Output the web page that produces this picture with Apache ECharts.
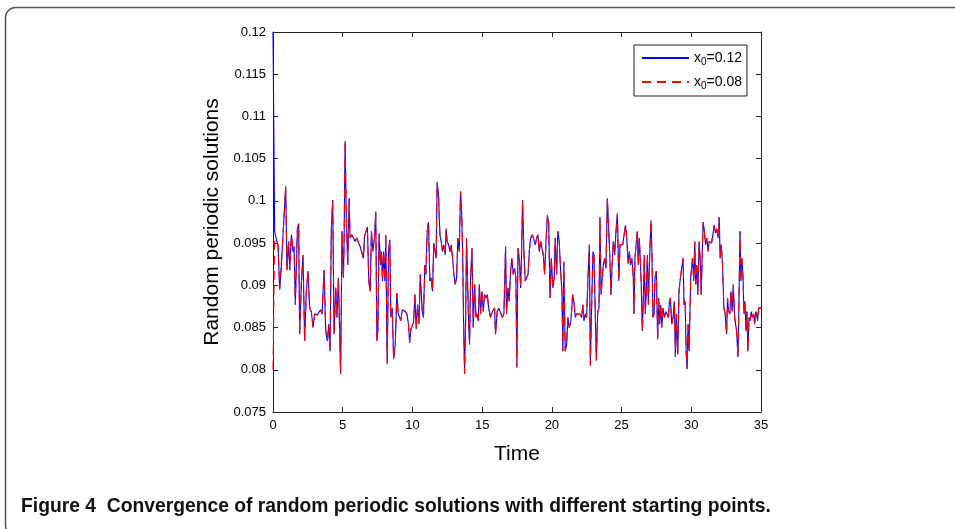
<!DOCTYPE html>
<html>
<head>
<meta charset="utf-8">
<script src="https://cdn.jsdelivr.net/npm/echarts@6/dist/echarts.min.js"></script>
<style>
html,body{margin:0;padding:0;background:#fff;}
#chart{width:955px;height:529px;}
</style>
</head>
<body>
<div id="chart"></div>
<script>
const time = [0,0.12,0.24,0.36,0.48,0.60,0.72,0.91,1.00,1.12,1.20,1.32,1.43,1.51,1.60,1.75,1.84,1.91,2.03,2.15,2.27,2.39,2.51,2.63,2.75,2.87,2.99,3.18,3.30,3.40,3.52,3.66,3.78,3.90,3.99,4.09,4.18,4.28,4.38,4.50,4.59,4.69,4.85,
4.95,5.05,5.10,5.17,5.26,5.36,5.46,5.53,5.65,5.77,5.89,6.01,6.13,6.25,6.37,6.49,6.56,6.68,6.77,6.87,6.97,7.06,7.16,7.28,7.37,7.45,7.52,7.61,7.71,7.78,7.85,7.93,8.02,8.09,8.19,8.29,8.38,8.45,8.55,8.65,8.77,8.88,8.98,9.08,9.17,9.27,9.36,9.48,9.60,9.72,9.80,9.89,9.99,10.08,10.18,10.27,10.37,10.47,10.56,
10.70,10.79,10.89,10.96,11.06,11.15,11.25,11.34,11.44,11.53,11.63,11.70,11.77,11.87,11.97,12.06,12.16,12.25,12.35,12.42,12.49,12.59,12.69,12.78,12.88,12.97,13.07,13.17,13.26,13.36,13.45,13.53,13.60,13.67,13.74,13.81,13.88,13.96,14.03,14.10,14.17,14.27,14.36,14.46,14.56,14.65,14.72,14.80,14.89,14.99,15.08,15.18,15.28,15.37,15.47,
15.60,15.74,15.89,15.96,16.08,16.20,16.32,16.44,16.56,16.68,16.75,16.85,16.94,17.04,17.13,17.23,17.33,17.42,17.49,17.57,17.66,17.76,17.83,17.90,18.00,18.09,18.19,18.29,18.38,18.48,18.60,18.72,18.81,18.91,19.00,19.10,19.20,19.29,19.39,19.48,19.58,19.68,19.77,19.87,19.96,
20.07,20.17,20.24,20.34,20.43,20.53,20.62,20.72,20.79,20.86,20.96,21.06,21.15,21.25,21.37,21.49,21.58,21.68,21.77,21.89,22.01,22.13,22.23,22.30,22.40,22.49,22.59,22.69,22.76,22.85,22.95,23.02,23.12,23.19,23.29,23.38,23.45,23.53,23.62,23.69,23.79,23.88,23.98,24.08,24.17,24.24,24.32,24.41,24.51,24.60,24.70,24.80,24.89,24.99,25.08,25.18,25.28,25.37,25.47,25.56,25.64,
25.74,25.84,25.89,25.96,26.06,26.13,26.20,26.27,26.34,26.41,26.49,26.56,26.63,26.70,26.77,26.85,26.92,27.01,27.11,27.18,27.25,27.33,27.40,27.49,27.59,27.66,27.73,27.81,27.88,27.97,28.07,28.17,28.26,28.36,28.43,28.50,28.60,28.69,28.79,28.86,28.93,29.03,29.12,29.22,29.32,29.41,29.48,29.56,29.63,29.70,29.77,29.84,
29.96,30.08,30.18,30.25,30.32,30.40,30.47,30.56,30.64,30.71,30.78,30.85,30.92,31.02,31.11,31.21,31.28,31.35,31.45,31.55,31.64,31.74,31.83,31.93,32.00,32.07,32.15,32.24,32.34,32.43,32.53,32.60,32.67,32.77,32.84,32.94,33.01,33.11,33.18,33.25,33.35,33.42,33.49,33.56,33.63,33.71,33.78,33.85,33.92,33.99,34.06,34.14,34.21,34.30,34.38,34.47,34.54,34.62,34.69,34.76,34.83,34.93,35.00];

// x0 = 0.12 (blue, solid)
const start012 = [0.1200,0.0964,0.0954,0.0948,0.0895,0.0924,0.0924,0.1017,0.0918,0.0952,0.0918,0.0960,0.0940,0.0946,0.0877,0.0967,0.0973,0.0842,0.0901,0.0936,0.0834,0.0893,0.0917,0.0873,0.0869,0.0850,0.0866,0.0865,0.0866,0.0871,0.0866,0.0918,0.0846,0.0834,0.0854,0.0822,0.0964,0.1001,0.0842,0.0897,0.0862,0.0909,0.0795,
0.0964,0.0909,0.0952,0.1071,0.0979,0.0924,0.1003,0.0956,0.0960,0.0962,0.0952,0.0956,0.0950,0.0946,0.0944,0.0932,0.0958,0.0956,0.0969,0.0905,0.0893,0.0964,0.0940,0.0956,0.0987,0.0834,0.0846,0.0962,0.0924,0.0940,0.0905,0.0940,0.0905,0.0960,0.0807,0.0940,0.0954,0.0862,0.0873,0.0813,0.0830,0.0891,0.0866,0.0862,0.0858,0.0871,0.0869,0.0869,0.0866,0.0854,0.0832,0.0848,0.0850,0.0856,0.0889,0.0848,0.0877,0.0854,0.0913,
0.0869,0.0862,0.0924,0.0913,0.0964,0.0975,0.0905,0.0909,0.0893,0.0950,0.0940,0.0932,0.1022,0.1007,0.0960,0.0952,0.0940,0.0948,0.0936,0.0967,0.0952,0.0948,0.0940,0.0948,0.0932,0.0913,0.0901,0.0909,0.0956,0.0940,0.1011,0.0987,0.0940,0.0854,0.0795,0.0854,0.0956,0.0901,0.0854,0.0830,0.0909,0.0944,0.0850,0.0901,0.0862,0.0866,0.0858,0.0901,0.0866,0.0893,0.0869,0.0889,0.0885,0.0889,0.0873,
0.0862,0.0869,0.0873,0.0842,0.0869,0.0873,0.0875,0.0862,0.0866,0.0946,0.0866,0.0897,0.0881,0.0917,0.0932,0.0913,0.0920,0.0909,0.0803,0.0944,0.0932,0.0897,0.0940,0.1001,0.0936,0.0905,0.0905,0.0913,0.0940,0.0956,0.0960,0.0960,0.0948,0.0956,0.0960,0.0940,0.0952,0.0944,0.0936,0.0913,0.0952,0.0983,0.0975,0.0885,0.0932,
0.0897,0.0909,0.0956,0.0913,0.0964,0.0952,0.0920,0.0893,0.0822,0.0928,0.0822,0.0830,0.0862,0.0850,0.0858,0.0889,0.0881,0.0862,0.0866,0.0864,0.0866,0.0862,0.0877,0.0858,0.0866,0.0862,0.0909,0.0948,0.0805,0.0873,0.0940,0.0936,0.0862,0.0811,0.0869,0.0873,0.0981,0.0889,0.0909,0.0924,0.0932,0.0920,0.1003,0.0964,0.0928,0.0889,0.0924,0.0952,0.0936,0.0964,0.0985,0.0905,0.0948,0.0948,0.0948,0.0948,0.0971,0.0956,0.0926,0.0940,0.0924,
0.0932,0.0909,0.0866,0.0932,0.0952,0.0964,0.0924,0.0956,0.0932,0.0901,0.0846,0.0885,0.0936,0.0866,0.0893,0.0936,0.0877,0.0932,0.0977,0.0936,0.0862,0.0866,0.0909,0.0917,0.0836,0.0885,0.0854,0.0877,0.0850,0.0873,0.0862,0.0869,0.0866,0.0862,0.0881,0.0885,0.0854,0.0862,0.0881,0.0815,0.0866,0.0818,0.0893,0.0909,0.0909,0.0932,0.0877,0.0881,0.0822,0.0801,0.0854,0.0822,
0.0909,0.0932,0.0905,0.0952,0.0901,0.0924,0.0889,0.0952,0.0932,0.0889,0.0932,0.0975,0.0967,0.0948,0.0956,0.0940,0.0952,0.0954,0.0950,0.0960,0.0971,0.0962,0.0967,0.0956,0.0981,0.0932,0.0948,0.0924,0.0873,0.0866,0.0842,0.0885,0.0869,0.0866,0.0893,0.0869,0.0901,0.0862,0.0862,0.0846,0.0815,0.0881,0.0964,0.0905,0.0932,0.0909,0.0866,0.0881,0.0846,0.0869,0.0822,0.0862,0.0858,0.0869,0.0862,0.0866,0.0854,0.0869,0.0866,0.0858,0.0873,0.0873,0.0873];

// x0 = 0.08 (red, dashed): own start, then follows the same path
const start008Head = [0.0800, 0.0955];
const start008 = start008Head.concat(start012.slice(start008Head.length));

const xTicks = [0,5,10,15,20,25,30,35];
const yTicks = [0.075,0.08,0.085,0.09,0.095,0.1,0.105,0.11,0.115,0.12];
const legendNames = ['x0=0.12', 'x0=0.08'];
const caption = 'Figure 4  Convergence of random periodic solutions with different starting points.';

const pairs = (vals) => time.map((t, i) => [t, vals[i]]);

const chart = echarts.init(document.getElementById('chart'), null, {renderer: 'canvas'});
const axisCol = '#222';
const lblFont = 'Liberation Sans';

chart.setOption({
  animation: false,
  backgroundColor: '#fff',
  grid: {left: 273, right: 194, top: 32, bottom: 117, containLabel: false},
  xAxis: [{
    type: 'value', min: xTicks[0], max: xTicks[xTicks.length - 1], interval: 5,
    name: 'Time', nameLocation: 'middle', nameGap: 32,
    nameTextStyle: {fontFamily: lblFont, fontSize: 21, color: '#000'},
    axisLine: {show: true, lineStyle: {color: axisCol, width: 1}},
    axisTick: {show: true, inside: true, length: 5, lineStyle: {color: axisCol}},
    axisLabel: {fontFamily: lblFont, fontSize: 13, color: '#000', margin: 7},
    splitLine: {show: false}
  }, {
    type: 'value', position: 'top', min: 0, max: 35, interval: 5,
    axisLine: {show: true, onZero: false, lineStyle: {color: axisCol, width: 1}},
    axisTick: {show: true, inside: true, length: 5, lineStyle: {color: axisCol}},
    axisLabel: {show: false}, splitLine: {show: false}
  }],
  yAxis: [{
    type: 'value', min: yTicks[0], max: yTicks[yTicks.length - 1], interval: 0.005,
    name: 'Random periodic solutions', nameLocation: 'middle', nameGap: 49,
    nameTextStyle: {fontFamily: lblFont, fontSize: 21, color: '#000'},
    axisLine: {show: true, onZero: false, lineStyle: {color: axisCol, width: 1}},
    axisTick: {show: true, inside: true, length: 5, lineStyle: {color: axisCol}},
    axisLabel: {fontFamily: lblFont, fontSize: 13, color: '#000', margin: 7},
    splitLine: {show: false}
  }, {
    type: 'value', position: 'right', min: 0.075, max: 0.12, interval: 0.005,
    axisLine: {show: true, onZero: false, lineStyle: {color: axisCol, width: 1}},
    axisTick: {show: true, inside: true, length: 5, lineStyle: {color: axisCol}},
    axisLabel: {show: false}, splitLine: {show: false}
  }],
  legend: {
    orient: 'vertical', left: 634, top: 45,
    padding: [6, 5, 5, 7], itemGap: 8,
    itemWidth: 47, itemHeight: 14,
    backgroundColor: '#fff', borderColor: '#222', borderWidth: 1,
    data: legendNames,
    itemStyle: {opacity: 0},
    formatter: (n) => n.replace('x0', 'x{s|0}'),
    textStyle: {fontFamily: lblFont, fontSize: 14, color: '#000',
      rich: {s: {fontFamily: lblFont, fontSize: 10, color: '#000', padding: [8, 0, 0, 0]}}}
  },
  series: [{
    name: legendNames[0], type: 'line', data: pairs(start012),
    symbol: 'none', showSymbol: false, lineStyle: {color: '#0000ff', width: 1.1}, itemStyle: {color: '#0000ff'}
  }, {
    name: legendNames[1], type: 'line', data: pairs(start008),
    symbol: 'none', showSymbol: false, lineStyle: {color: '#ff0000', width: 1.1, type: [9, 6]}, itemStyle: {color: '#ff0000'}
  }],
  graphic: [{
    type: 'rect', silent: true, x: 0, y: 0,
    shape: {x: 5.5, y: 7.5, width: 1000, height: 528, r: 10},
    style: {fill: 'none', stroke: '#555', lineWidth: 1.5}
  }, {
    type: 'text', left: 21, top: 497,
    style: {text: caption, font: 'bold 19.3px "Liberation Sans"', fill: '#111'}
  }]
});
</script>
</body>
</html>
